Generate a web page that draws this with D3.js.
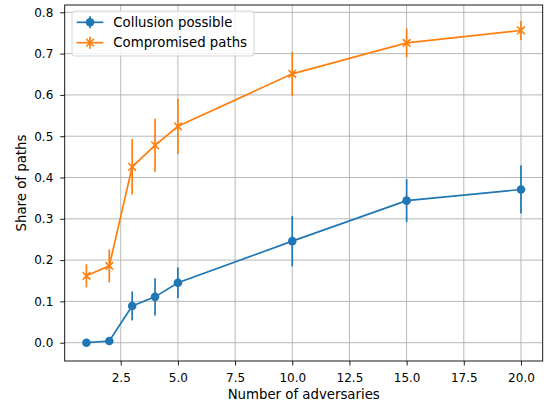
<!DOCTYPE html>
<html>
<head>
<meta charset="utf-8">
<script src="https://cdn.jsdelivr.net/npm/d3@7"></script>
<style>
  body { margin: 0; background: #fff; }
  svg { display: block; font-family: "DejaVu Sans", sans-serif; }
</style>
</head>
<body>
<div id="chart"></div>
<script>
const adversaries = [1, 2, 3, 4, 5, 10, 15, 20];
const collusion = [0.000, 0.004, 0.089, 0.111, 0.145, 0.246, 0.344, 0.371];
const collusionErr = [0.000, 0.002, 0.035, 0.045, 0.037, 0.061, 0.052, 0.058];
const compromised = [0.162, 0.186, 0.426, 0.478, 0.524, 0.651, 0.726, 0.756];
const compromisedErr = [0.028, 0.040, 0.067, 0.064, 0.067, 0.053, 0.035, 0.023];
const xTicks = [2.5, 5, 7.5, 10, 12.5, 15, 17.5, 20];
const yTicks = [0, 0.1, 0.2, 0.3, 0.4, 0.5, 0.6, 0.7, 0.8];
const seriesNames = ["Collusion possible", "Compromised paths"];

(function() {
  const width = 548;
  const height = 408;
  const plot = { left: 64.7, right: 542.7, top: 5, bottom: 361 };
  const blue = "#1f77b4";
  const orange = "#ff7f0e";
  const tickFont = "12px";
  const labelFont = "13.3px";

  const svg = d3.select("#chart")
    .append("svg")
    .attr("width", width)
    .attr("height", height);

  const x = d3.scaleLinear().domain([0.05, 20.95]).range([plot.left, plot.right]);
  const y = d3.scaleLinear().domain([-0.0443, 0.8177]).range([plot.bottom, plot.top]);

  // Grid
  const grid = svg.append("g").attr("stroke", "#b0b0b0").attr("stroke-width", 0.9);
  grid.selectAll("line.gx").data(xTicks).join("line")
    .attr("x1", d => x(d)).attr("x2", d => x(d))
    .attr("y1", plot.top).attr("y2", plot.bottom);
  grid.selectAll("line.gy").data(yTicks).join("line")
    .attr("y1", d => y(d)).attr("y2", d => y(d))
    .attr("x1", plot.left).attr("x2", plot.right);

  // Axes
  const xAxis = d3.axisBottom(x).tickValues(xTicks).tickFormat(d3.format(".1f")).tickSizeOuter(0).tickSize(4.5).tickPadding(7.5);
  const yAxis = d3.axisLeft(y).tickValues(yTicks).tickFormat(d3.format(".1f")).tickSizeOuter(0).tickSize(4.5).tickPadding(6.9);

  const gx = svg.append("g").attr("transform", `translate(0,${plot.bottom})`).call(xAxis);
  const gy = svg.append("g").attr("transform", `translate(${plot.left},0)`).call(yAxis);
  [gx, gy].forEach(g => {
    g.select(".domain").remove();
    g.selectAll("text").attr("font-size", tickFont).attr("fill", "#000").attr("font-family", "DejaVu Sans");
    g.selectAll("line").attr("stroke", "#000").attr("stroke-width", 0.9);
  });

  const series = [
    { name: seriesNames[0], values: collusion, err: collusionErr, color: blue, marker: "o" },
    { name: seriesNames[1], values: compromised, err: compromisedErr, color: orange, marker: "x" }
  ];

  const line = d3.line().x(d => x(d[0])).y(d => y(d[1]));

  function drawMarker(g, type, cx, cy, color) {
    if (type === "o") {
      g.append("circle").attr("cx", cx).attr("cy", cy).attr("r", 4.3).attr("fill", color);
    } else {
      const h = 3.8;
      g.append("path")
        .attr("d", `M${cx - h},${cy - h}L${cx + h},${cy + h}M${cx - h},${cy + h}L${cx + h},${cy - h}`)
        .attr("stroke", color).attr("stroke-width", 1.6).attr("fill", "none");
    }
  }

  series.forEach(s => {
    const pts = adversaries.map((a, i) => [a, s.values[i], s.err[i]]);
    const g = svg.append("g");
    g.append("path")
      .datum(pts)
      .attr("d", line)
      .attr("fill", "none")
      .attr("stroke", s.color)
      .attr("stroke-width", 1.7);
    g.selectAll("line.err").data(pts).join("line")
      .attr("x1", d => x(d[0])).attr("x2", d => x(d[0]))
      .attr("y1", d => y(d[1] - d[2])).attr("y2", d => y(d[1] + d[2]))
      .attr("stroke", s.color)
      .attr("stroke-width", 1.7);
    pts.forEach(d => drawMarker(g, s.marker, x(d[0]), y(d[1]), s.color));
  });

  // Frame
  svg.append("rect")
    .attr("x", plot.left).attr("y", plot.top)
    .attr("width", plot.right - plot.left).attr("height", plot.bottom - plot.top)
    .attr("fill", "none").attr("stroke", "#000").attr("stroke-width", 0.9);

  // Axis labels
  svg.append("text")
    .attr("x", (plot.left + plot.right) / 2).attr("y", 399)
    .attr("text-anchor", "middle").attr("font-size", labelFont)
    .text("Number of adversaries");
  svg.append("text")
    .attr("transform", `translate(26,${(plot.top + plot.bottom) / 2}) rotate(-90)`)
    .attr("text-anchor", "middle").attr("font-size", labelFont)
    .text("Share of paths");

  // Legend
  const legend = svg.append("g").attr("transform", "translate(72,11)");
  legend.append("rect")
    .attr("width", 182).attr("height", 45).attr("rx", 3)
    .attr("fill", "#fff").attr("fill-opacity", 0.8)
    .attr("stroke", "#d0d0d0").attr("stroke-width", 0.9);
  series.forEach((s, i) => {
    const row = legend.append("g").attr("transform", `translate(0,${11.3 + i * 20.4})`);
    row.append("line").attr("x1", 4.7).attr("x2", 31.3).attr("y1", 0).attr("y2", 0)
      .attr("stroke", s.color).attr("stroke-width", 1.7);
    row.append("line").attr("x1", 18).attr("x2", 18).attr("y1", -6).attr("y2", 6)
      .attr("stroke", s.color).attr("stroke-width", 1.7);
    drawMarker(row, s.marker, 18, 0, s.color);
    row.append("text")
      .attr("x", 41.3).attr("y", 0).attr("dy", "0.36em")
      .attr("font-size", labelFont).attr("fill", "#000")
      .text(s.name);
  });
})();
</script>
</body>
</html>
